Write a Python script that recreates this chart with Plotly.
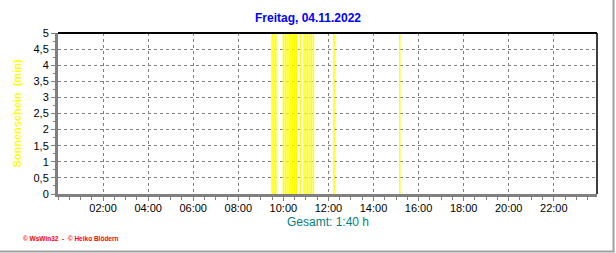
import plotly.graph_objects as go

# ---- data ----
sun_times = ["09:30", "09:35", "09:40",
             "10:00", "10:05", "10:10", "10:15", "10:20", "10:25", "10:30", "10:35", "10:45",
             "10:55", "11:00", "11:05", "11:10", "11:15", "11:20",
             "12:15", "15:10"]
sun_minutes = [5, 5, 5,
               5, 5, 5, 5, 5, 5, 5, 5, 5,
               5, 5, 5, 5, 5, 5,
               5, 5]
tick_hours = [2, 4, 6, 8, 10, 12, 14, 16, 18, 20, 22]
tick_labels = ["02:00", "04:00", "06:00", "08:00", "10:00", "12:00",
               "14:00", "16:00", "18:00", "20:00", "22:00"]
y_ticks = [0, 0.5, 1, 1.5, 2, 2.5, 3, 3.5, 4, 4.5, 5]

title_text = "Freitag, 04.11.2022"
total_text = "Gesamt: 1:40 h"
footer_text = "© WsWin32  -  © Heiko Blödern"


def to_hours(s):
    h, m = s.split(":")
    return int(h) + int(m) / 60.0


x_hours = [to_hours(t) for t in sun_times]

# vertical stick segments built from the data (one per interval)
seg_x, seg_y = [], []
for xv, yv in zip(x_hours, sun_minutes):
    seg_x += [xv, xv, None]
    seg_y += [0, yv, None]

W, H = 616, 253
L, R, T, B = 58, 597, 33, 194  # plot area in pixels
X_MAX = 23.917


def px(xp):
    return (xp - L) / (R - L)


def py(yp):
    return (B - yp) / (B - T)


FONT = "Liberation Sans, Arial, sans-serif"

fig = go.Figure()
fig.add_trace(go.Scatter(
    x=seg_x, y=seg_y, mode="lines",
    line=dict(color="#FFFF00", width=1.5),
    hoverinfo="x+y",
))

fig.update_layout(
    width=W, height=H,
    margin=dict(l=L, r=W - R, t=T, b=H - B, pad=0),
    paper_bgcolor="white", plot_bgcolor="white",
    separators=",.",
    showlegend=False,
    font=dict(family=FONT, size=11, color="black"),
    title=dict(text="<b>" + title_text + "</b>", x=0.5, xanchor="center",
               y=1 - 18 / H, yanchor="middle",
               font=dict(family=FONT, size=12, color="#0000FF")),
)

fig.update_xaxes(
    range=[0, X_MAX], tickmode="array", tickvals=tick_hours, ticktext=tick_labels,
    showgrid=True, gridcolor="#808080", griddash="3px,3px", gridwidth=1,
    showline=True, linecolor="#808080", linewidth=3,
    ticks="outside", ticklen=4, tickcolor="#808080", tickwidth=1,
    ticklabelstandoff=-2,
    minor=dict(tickmode="linear", tick0=0, dtick=0.5, ticks="outside", ticklen=3,
               tickcolor="#808080", showgrid=False, gridcolor="rgba(0,0,0,0)"),
    tickfont=dict(family=FONT, size=11, color="black"),
    zeroline=False, fixedrange=True,
)
fig.update_yaxes(
    range=[0, 5], tickmode="array", tickvals=y_ticks,
    showgrid=True, gridcolor="#808080", griddash="3px,3px", gridwidth=1,
    showline=True, linecolor="#808080", linewidth=3,
    ticks="outside", ticklen=4, tickcolor="#808080", tickwidth=1,
    minor=dict(tickmode="linear", tick0=0, dtick=0.25, ticks="outside", ticklen=2,
               tickcolor="#808080", showgrid=False, gridcolor="rgba(0,0,0,0)"),
    tickfont=dict(family=FONT, size=11, color="black"),
    title=dict(text="<b>Sonnenschein  (min)</b>", standoff=10,
               font=dict(family=FONT, size=11, color="#FFFF00")),
    zeroline=False, fixedrange=True,
)

# top and right black border
fig.add_shape(type="line", xref="paper", yref="paper", x0=0, x1=1, y0=1, y1=1,
              line=dict(color="black", width=2))
fig.add_shape(type="line", xref="paper", yref="paper", x0=1, x1=1, y0=0, y1=1,
              line=dict(color="black", width=1.5))
# outer gray frame (right and bottom)
fig.add_shape(type="line", xref="paper", yref="paper",
              x0=px(613.5), x1=px(613.5), y0=py(252), y1=py(0),
              line=dict(color="#A0A0A0", width=2))
fig.add_shape(type="line", xref="paper", yref="paper",
              x0=px(0), x1=px(614.5), y0=py(251.5), y1=py(251.5),
              line=dict(color="#A0A0A0", width=2))

fig.add_annotation(text=total_text, xref="paper", yref="paper",
                   x=0.5, y=py(222), xanchor="center", yanchor="middle",
                   showarrow=False, font=dict(family=FONT, size=12, color="#008080"))
fig.add_annotation(text="<b>" + footer_text + "</b>", xref="paper", yref="paper",
                   x=px(21), y=py(238.5), xanchor="left", yanchor="middle",
                   showarrow=False, font=dict(family=FONT, size=6.5, color="#FF0000"))

fig.write_html("out.html")
